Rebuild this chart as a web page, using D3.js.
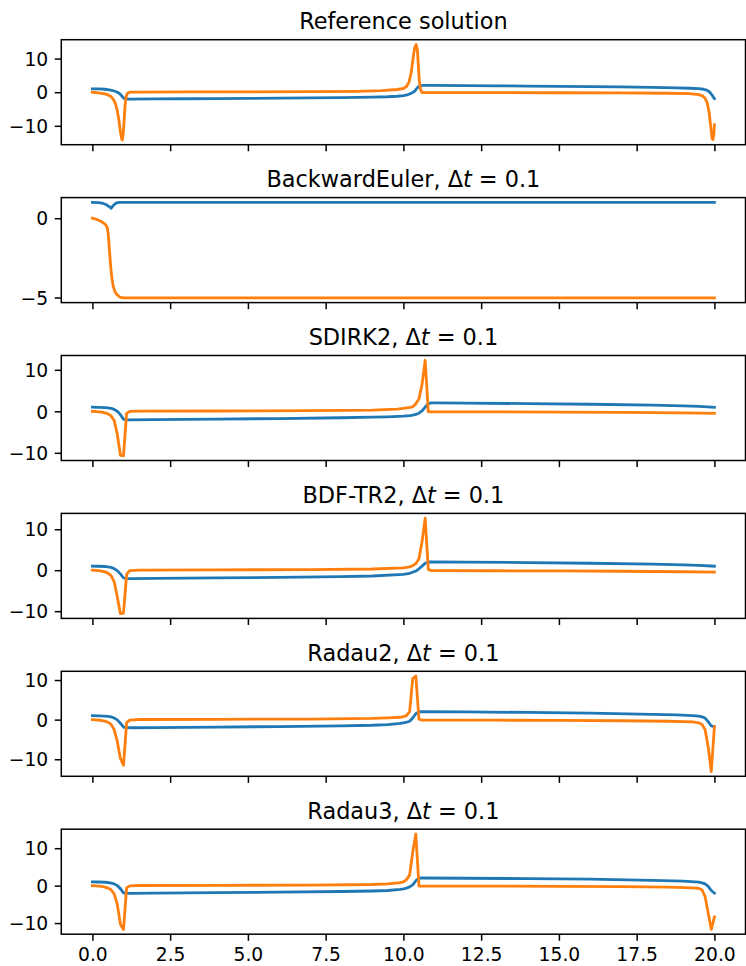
<!DOCTYPE html>
<html lang="en">
<head>
<meta charset="UTF-8">
<title>Solutions</title>
<script src="https://cdn.jsdelivr.net/npm/d3@7"></script>
<style>
  body { margin: 0; background: #fff; }
  svg { display: block; font-family: "DejaVu Sans", sans-serif; }
</style>
</head>
<body>
<svg width="746" height="966" id="mainsvg"></svg>
<script>
// values, [t, value] pairs
const refBlue = [[0,1.0],[0.2,0.97],[0.4,0.88],[0.55,0.7],[0.65,0.5],[0.75,0.2],[0.82,-0.1],[0.88,-0.45],[0.93,-0.95],[0.98,-1.5],[1.02,-1.85],[1.06,-2.02],[1.2,-2.05],[2,-2.0],[3,-1.95],[4,-1.9],[5,-1.84],[6,-1.77],[7,-1.69],[8,-1.59],[9,-1.46],[9.5,-1.35],[9.8,-1.2],[10.0,-1.0],[10.15,-0.7],[10.25,-0.35],[10.35,0.2],[10.42,1.0],[10.48,1.6],[10.55,1.95],[10.65,2.04],[11,2.03],[12,1.97],[13,1.9],[14,1.83],[15,1.75],[16,1.66],[17,1.56],[18,1.42],[18.8,1.28],[19.2,1.17],[19.5,1.05],[19.65,0.88],[19.75,0.6],[19.82,0.25],[19.88,-0.3],[19.93,-0.95],[19.97,-1.5],[20.0,-1.9]];
const refOrange = [[0,0],[0.2,-0.2],[0.4,-0.5],[0.5,-0.8],[0.6,-1.3],[0.68,-2.2],[0.74,-3.4],[0.8,-5.5],[0.85,-8.2],[0.9,-11.8],[0.94,-13.8],[0.96,-14.2],[0.99,-12.5],[1.02,-8.5],[1.05,-4.0],[1.08,-1.5],[1.12,-0.4],[1.2,0.0],[1.5,0.05],[3,0.08],[5,0.1],[7,0.15],[8.5,0.25],[9.3,0.45],[9.8,0.8],[10.0,1.1],[10.1,1.7],[10.18,3.0],[10.25,5.8],[10.31,10.0],[10.36,13.2],[10.41,14.2],[10.45,12.5],[10.48,8.0],[10.51,3.5],[10.55,0.8],[10.6,-0.1],[10.8,-0.15],[13,-0.13],[15,-0.16],[17,-0.22],[18.5,-0.32],[19.2,-0.45],[19.5,-0.7],[19.62,-1.1],[19.7,-1.8],[19.77,-3.2],[19.83,-6.0],[19.88,-10.0],[19.92,-13.5],[19.95,-14.1],[19.98,-12.8],[20.0,-9.7]];

const beBlue = [[0,1.0],[0.2,0.98],[0.35,0.93],[0.45,0.85],[0.55,0.72],[0.6,0.63],[0.68,0.82],[0.76,0.95],[0.85,1.0],[1.0,1.0],[20,1.0]];
const beOrange = [[0,0],[0.15,-0.08],[0.27,-0.19],[0.36,-0.3],[0.43,-0.42],[0.48,-0.6],[0.51,-1.0],[0.54,-1.8],[0.57,-2.6],[0.6,-3.3],[0.63,-3.8],[0.67,-4.3],[0.72,-4.6],[0.78,-4.8],[0.88,-4.97],[1.0,-5.02],[2,-5.02],[20,-5.02]];

const sdirkBlue = [[0,1.0],[0.2,0.97],[0.4,0.9],[0.5,0.83],[0.6,0.7],[0.7,0.45],[0.8,0.0],[0.9,-0.8],[1.0,-1.9],[1.1,-2.05],[1.2,-2.05],[2,-2.0],[4,-1.88],[6,-1.74],[8,-1.55],[9,-1.42],[9.5,-1.32],[10,-1.15],[10.2,-1.02],[10.3,-0.92],[10.4,-0.75],[10.5,-0.45],[10.6,0.1],[10.7,1.0],[10.8,1.85],[10.9,2.02],[11,2.03],[12,1.97],[14,1.86],[16,1.7],[18,1.5],[19,1.32],[19.5,1.2],[20,0.95]];
const sdirkOrange = [[0,0],[0.1,-0.05],[0.2,-0.12],[0.3,-0.2],[0.4,-0.35],[0.5,-0.6],[0.6,-1.1],[0.7,-2.2],[0.8,-5.5],[0.9,-10.6],[1.0,-10.7],[1.1,-0.5],[1.2,0.0],[1.5,0.05],[4,0.08],[7,0.15],[9,0.3],[9.8,0.55],[10,0.7],[10.2,0.95],[10.3,1.1],[10.4,1.8],[10.5,3.0],[10.6,6.5],[10.7,12.3],[10.8,-0.1],[11,-0.12],[13,-0.14],[15,-0.18],[17,-0.25],[19,-0.38],[20,-0.5]];

const bdfBlue = [[0,1.0],[0.2,0.97],[0.4,0.9],[0.5,0.82],[0.6,0.68],[0.7,0.4],[0.8,-0.1],[0.9,-0.9],[1.0,-1.9],[1.1,-2.02],[1.3,-2.04],[2,-2.0],[4,-1.88],[6,-1.74],[8,-1.55],[9,-1.42],[10.0,-1.0],[10.2,-0.75],[10.4,-0.2],[10.5,0.35],[10.6,1.0],[10.7,1.7],[10.8,2.0],[10.9,2.03],[12,1.97],[14,1.86],[16,1.7],[18,1.5],[19,1.32],[19.5,1.2],[20,0.98]];
const bdfOrange = [[0,0],[0.1,-0.05],[0.2,-0.12],[0.3,-0.22],[0.4,-0.4],[0.5,-0.7],[0.6,-1.3],[0.7,-2.8],[0.8,-6.5],[0.9,-10.6],[1.0,-10.5],[1.1,-1.0],[1.2,-0.1],[1.5,0.03],[4,0.08],[7,0.15],[9,0.3],[10,0.55],[10.2,0.8],[10.3,1.1],[10.4,1.6],[10.5,2.8],[10.6,7.0],[10.7,12.7],[10.8,0.2],[10.9,-0.1],[13,-0.14],[15,-0.18],[17,-0.25],[19,-0.38],[20,-0.45]];

const radau2Blue = [[0,1.0],[0.2,0.97],[0.4,0.9],[0.5,0.82],[0.6,0.68],[0.7,0.42],[0.8,-0.05],[0.9,-0.9],[1.0,-1.9],[1.1,-2.03],[1.3,-2.04],[2,-2.0],[4,-1.88],[6,-1.74],[8,-1.56],[9,-1.42],[9.5,-1.25],[9.9,-0.95],[10.0,-0.8],[10.1,-0.65],[10.2,-0.4],[10.3,0.4],[10.4,1.5],[10.5,2.0],[10.6,2.03],[12,1.95],[14,1.82],[16,1.64],[18,1.35],[18.8,1.18],[19.3,1.0],[19.5,0.9],[19.6,0.7],[19.7,0.4],[19.8,-0.5],[19.9,-1.6],[20.0,-1.8]];
const radau2Orange = [[0,0],[0.1,-0.05],[0.2,-0.12],[0.3,-0.22],[0.4,-0.38],[0.5,-0.65],[0.6,-1.2],[0.7,-2.5],[0.8,-5.5],[0.9,-9.8],[1.0,-11.5],[1.1,-0.8],[1.2,-0.1],[1.5,0.03],[4,0.08],[7,0.15],[9,0.3],[9.5,0.45],[9.9,0.6],[10.0,0.75],[10.1,1.0],[10.2,2.0],[10.3,10.4],[10.4,11.0],[10.5,0.1],[10.6,-0.1],[13,-0.14],[15,-0.18],[17,-0.28],[18.5,-0.4],[19.3,-0.55],[19.5,-0.8],[19.6,-1.2],[19.7,-2.5],[19.8,-6.9],[19.9,-13.1],[20.0,-1.8]];

const radau3Blue = [[0,1.0],[0.2,0.97],[0.4,0.9],[0.5,0.83],[0.6,0.7],[0.7,0.45],[0.8,0.0],[0.9,-0.8],[1.0,-1.95],[1.1,-2.05],[1.3,-2.05],[2,-2.0],[4,-1.88],[6,-1.74],[8,-1.56],[9,-1.43],[9.5,-1.3],[9.9,-1.0],[10.0,-0.85],[10.1,-0.65],[10.2,-0.35],[10.3,0.2],[10.4,1.3],[10.5,2.0],[10.6,2.04],[12,1.97],[14,1.87],[16,1.72],[18,1.4],[19,1.2],[19.5,0.95],[19.6,0.75],[19.7,0.45],[19.8,-0.2],[19.9,-1.3],[20.0,-2.0]];
const radau3Orange = [[0,0],[0.1,-0.05],[0.2,-0.12],[0.3,-0.22],[0.4,-0.38],[0.5,-0.65],[0.6,-1.1],[0.7,-2.2],[0.8,-5.0],[0.9,-10.3],[1.0,-11.7],[1.1,-0.6],[1.2,-0.05],[1.5,0.03],[4,0.08],[7,0.15],[9,0.3],[9.5,0.45],[9.9,0.8],[10.0,1.0],[10.1,1.6],[10.2,2.8],[10.3,9.0],[10.4,13.8],[10.5,-0.1],[10.6,-0.12],[13,-0.14],[15,-0.18],[17,-0.28],[18.5,-0.42],[19.3,-0.6],[19.5,-0.75],[19.6,-1.1],[19.7,-2.9],[19.8,-7.3],[19.9,-11.7],[20.0,-8.4]];

const methodNames = ['Reference solution', 'BackwardEuler', 'SDIRK2', 'BDF-TR2', 'Radau2', 'Radau3'];
const stepSizes = [null, 0.1, 0.1, 0.1, 0.1, 0.1];
const xTicks = [0, 2.5, 5, 7.5, 10, 12.5, 15, 17.5, 20];
const yTicksWide = [-10, 0, 10];
const yTicksBE = [-5, 0];

const panels = [
  {name: methodNames[0], dt: stepSizes[0], blue: refBlue, orange: refOrange, yTicks: yTicksWide},
  {name: methodNames[1], dt: stepSizes[1], blue: beBlue, orange: beOrange, yTicks: yTicksBE},
  {name: methodNames[2], dt: stepSizes[2], blue: sdirkBlue, orange: sdirkOrange, yTicks: yTicksWide},
  {name: methodNames[3], dt: stepSizes[3], blue: bdfBlue, orange: bdfOrange, yTicks: yTicksWide},
  {name: methodNames[4], dt: stepSizes[4], blue: radau2Blue, orange: radau2Orange, yTicks: yTicksWide},
  {name: methodNames[5], dt: stepSizes[5], blue: radau3Blue, orange: radau3Orange, yTicks: yTicksWide},
];

const svg = d3.select('#mainsvg');
const left = 61.3, right = 745.5;
const top0 = 39.7, panelH = 105, step = 157.9;
const pt = 1.875;                 // px per point
const tickLen = 3.5 * pt, tickPad = 3.5 * pt;
const tickFont = 18.7, titleFont = 22.4;

// x scale with matplotlib-like 5% margins
const allT = panels.flatMap(p => p.blue.concat(p.orange).map(d => d[0]));
const tExt = d3.extent(allT);
const tPad = (tExt[1] - tExt[0]) * 0.05;
const xScale = d3.scaleLinear().domain([tExt[0] - tPad, tExt[1] + tPad]).range([left, right]);

panels.forEach((p, i) => {
  const top = top0 + i * step;
  const bottom = top + panelH;
  const g = svg.append('g');

  const vals = p.blue.concat(p.orange).map(d => d[1]);
  const ext = d3.extent(vals);
  const pad = (ext[1] - ext[0]) * 0.05;
  const yScale = d3.scaleLinear().domain([ext[0] - pad, ext[1] + pad]).range([bottom, top]);

  const line = d3.line().x(d => xScale(d[0])).y(d => yScale(d[1]));
  const clipId = 'clip' + i;
  g.append('clipPath').attr('id', clipId).append('rect')
    .attr('x', left).attr('y', top).attr('width', right - left).attr('height', panelH);

  const lines = g.append('g').attr('clip-path', `url(#${clipId})`);
  [[p.blue, '#1f77b4'], [p.orange, '#ff7f0e']].forEach(([series, color]) => {
    lines.append('path').datum(series).attr('d', line)
      .attr('fill', 'none').attr('stroke', color).attr('stroke-width', 1.5 * pt)
      .attr('stroke-linejoin', 'round').attr('stroke-linecap', 'square');
  });

  // axes
  const yAxis = d3.axisLeft(yScale).tickValues(p.yTicks).tickSize(tickLen).tickPadding(tickPad)
    .tickSizeOuter(0).tickFormat(d3.format('d'));
  const yG = g.append('g').attr('transform', `translate(${left},0)`).call(yAxis);
  const xAxis = d3.axisBottom(xScale).tickValues(xTicks).tickSize(tickLen).tickPadding(tickPad)
    .tickSizeOuter(0).tickFormat(i === panels.length - 1 ? d3.format('.1f') : () => '');
  const xG = g.append('g').attr('transform', `translate(0,${bottom})`).call(xAxis);

  [yG, xG].forEach(a => {
    a.select('.domain').remove();
    a.attr('font-family', null).attr('font-size', null);
    a.selectAll('.tick line').attr('stroke', '#000').attr('stroke-width', 0.8 * pt);
    a.selectAll('.tick text').attr('fill', '#000').attr('font-size', tickFont);
  });
  yG.selectAll('.tick text').attr('dy', '0.36em');
  xG.selectAll('.tick text').attr('dy', '0.75em');

  // frame
  g.append('rect').attr('x', left).attr('y', top).attr('width', right - left).attr('height', panelH)
    .attr('fill', 'none').attr('stroke', '#000').attr('stroke-width', 0.8 * pt);

  // title
  const title = g.append('text').attr('x', (left + right) / 2).attr('y', top - 10.4)
    .attr('text-anchor', 'middle').attr('font-size', titleFont).attr('fill', '#000');
  if (p.dt === null) {
    title.text(p.name);
  } else {
    title.append('tspan').text(p.name + ', \u0394');
    title.append('tspan').attr('font-style', 'italic').text('t');
    title.append('tspan').text(' = ' + p.dt);
  }
});
</script>
</body>
</html>
